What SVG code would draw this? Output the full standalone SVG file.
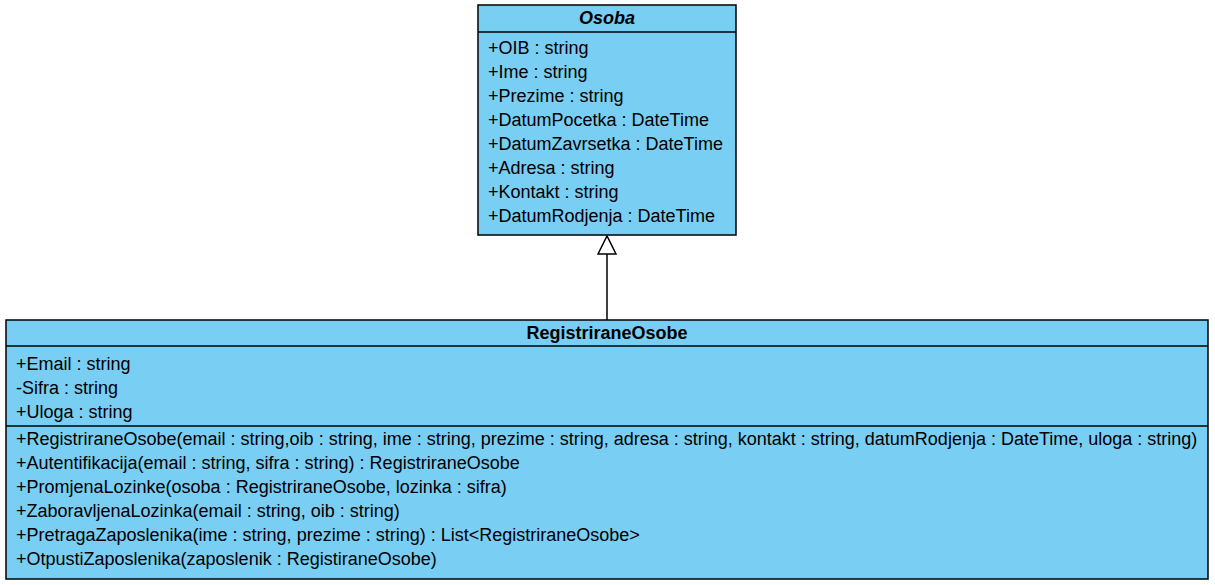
<svg xmlns="http://www.w3.org/2000/svg" width="1215" height="585" viewBox="0 0 1215 585">
<style>
.box{fill:#79CEF4;stroke:#000;stroke-width:1.5}
.div{stroke:#000;stroke-width:1.5}
text{font-family:"Liberation Sans",Arial,sans-serif;font-size:18px;fill:#000}
.title{font-weight:bold;text-anchor:middle}
.it{font-style:italic}
.edge{fill:none;stroke:#000;stroke-width:1.5}
</style>
<defs>
<marker id="inh" markerWidth="22" markerHeight="22" refX="19" refY="10" orient="auto" markerUnits="userSpaceOnUse">
<path d="M1,1 L19,10 L1,19 Z" fill="#fff" stroke="#000" stroke-width="1.5"/>
</marker>
</defs>
<rect width="1215" height="585" fill="#fff"/>
<g id="connectors">
<line class="edge" x1="607" y1="320" x2="607" y2="236" marker-end="url(#inh)"/>
</g>
<g id="Osoba">
<rect class="box" x="478" y="5" width="258" height="230"/>
<line class="div" x1="478" y1="32" x2="736" y2="32"/>
<text class="title it" x="607" y="24">Osoba</text>
<text x="488" y="54">+OIB : string</text>
<text x="488" y="78">+Ime : string</text>
<text x="488" y="102">+Prezime : string</text>
<text x="488" y="126">+DatumPocetka : DateTime</text>
<text x="488" y="150">+DatumZavrsetka : DateTime</text>
<text x="488" y="174">+Adresa : string</text>
<text x="488" y="198">+Kontakt : string</text>
<text x="488" y="222">+DatumRodjenja : DateTime</text>
</g>
<g id="RegistriraneOsobe">
<rect class="box" x="6" y="320" width="1202" height="259"/>
<line class="div" x1="6" y1="346" x2="1208" y2="346"/>
<line class="div" x1="6" y1="426" x2="1208" y2="426"/>
<text class="title" x="607" y="339">RegistriraneOsobe</text>
<text x="16" y="370">+Email : string</text>
<text x="16" y="394">-Sifra : string</text>
<text x="16" y="418">+Uloga : string</text>
<text x="16" y="445">+RegistriraneOsobe(email : string,oib : string, ime : string, prezime : string, adresa : string, kontakt : string, datumRodjenja : DateTime, uloga : string)</text>
<text x="16" y="469">+Autentifikacija(email : string, sifra : string) : RegistriraneOsobe</text>
<text x="16" y="493">+PromjenaLozinke(osoba : RegistriraneOsobe, lozinka : sifra)</text>
<text x="16" y="517">+ZaboravljenaLozinka(email : string, oib : string)</text>
<text x="16" y="541">+PretragaZaposlenika(ime : string, prezime : string) : List&lt;RegistriraneOsobe&gt;</text>
<text x="16" y="565">+OtpustiZaposlenika(zaposlenik : RegistiraneOsobe)</text>
</g>
</svg>
